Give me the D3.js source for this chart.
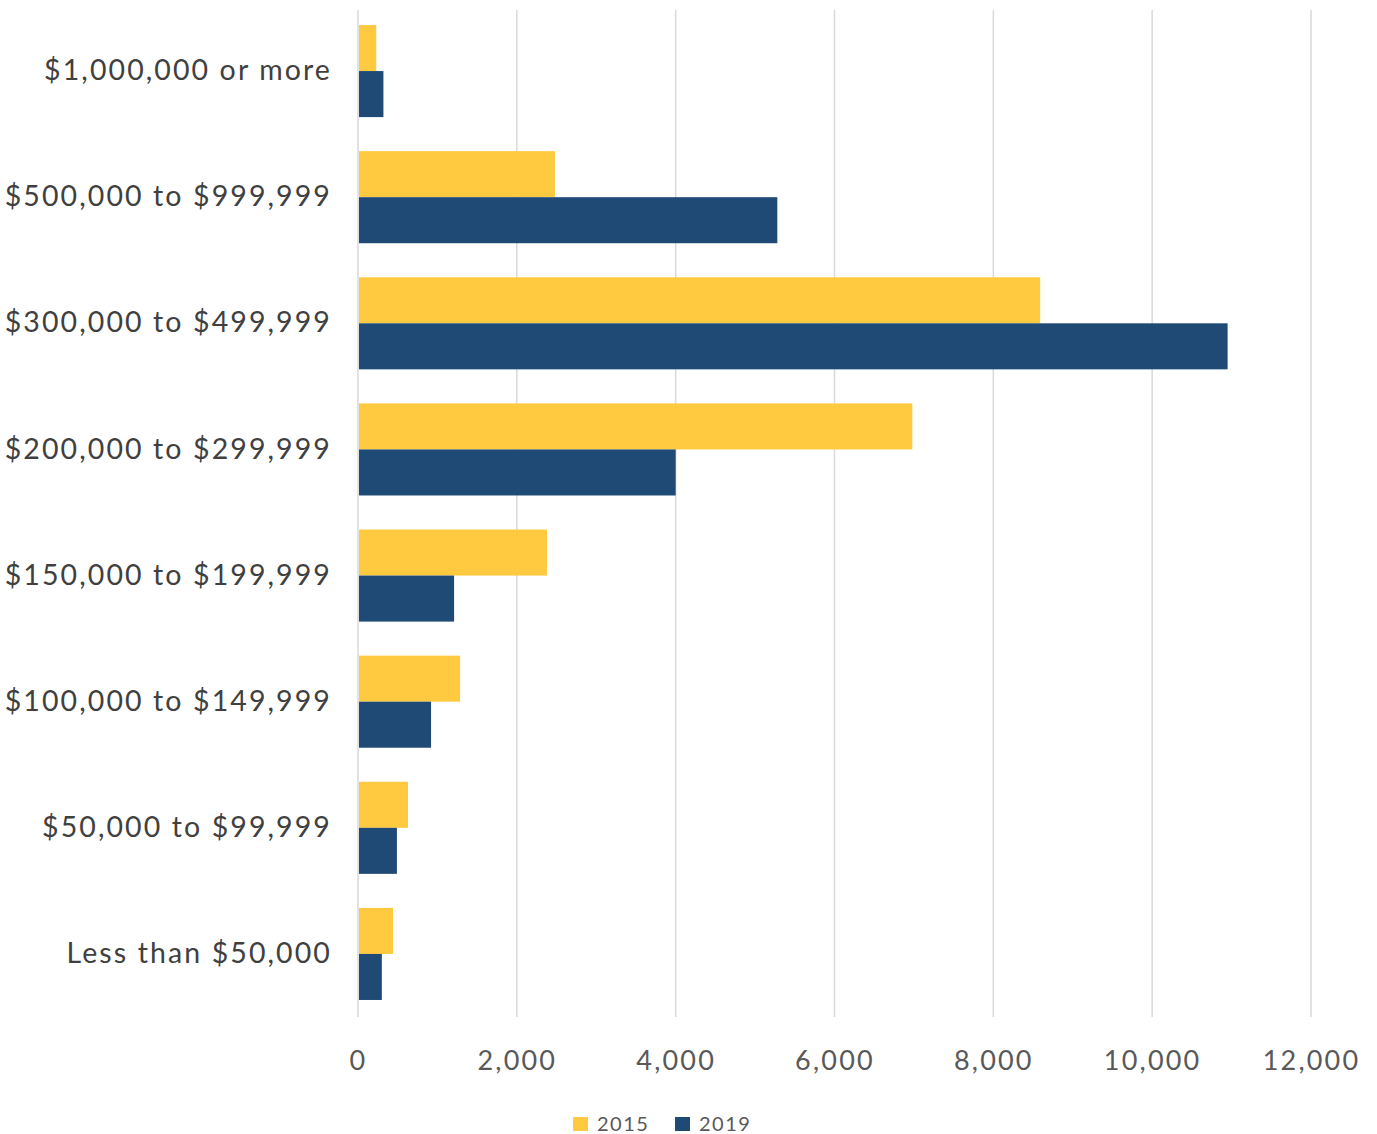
<!DOCTYPE html>
<html><head><meta charset="utf-8">
<script src="https://cdn.jsdelivr.net/npm/d3@7"></script>
<style>body{margin:0;background:#fff;} text{font-family:Lato,"Open Sans",sans-serif;}</style>
</head><body>
<svg id="c" width="1377" height="1134"></svg>
<script>
const categories = ["$1,000,000 or more","$500,000 to $999,999","$300,000 to $499,999","$200,000 to $299,999","$150,000 to $199,999","$100,000 to $149,999","$50,000 to $99,999","Less than $50,000"];
const series2015 = [230, 2480, 8590, 6980, 2380, 1285, 630, 441];
const series2019 = [320, 5280, 10950, 4000, 1210, 920, 490, 300];
const seriesNames = ["2015","2019"];
const tickValues = [0,2000,4000,6000,8000,10000,12000];
const colors = ["#FFC940","#1F4A75"];

(function(){
const svg = d3.select("#c");
const mLeft = 358, mRight = 1311, mTop = 8, mBottom = 1017;
const x = d3.scaleLinear().domain([0,12000]).range([mLeft,mRight]);
const y = d3.scaleBand().domain(categories).range([mTop,mBottom]).paddingInner(0.27).paddingOuter(0.135);
const ys = d3.scaleBand().domain(seriesNames).range([0,y.bandwidth()]);

svg.append("g").selectAll("line").data(tickValues).join("line")
  .attr("x1",d=>x(d)).attr("x2",d=>x(d)).attr("y1",10).attr("y2",mBottom)
  .attr("stroke","#d9d9d9").attr("stroke-width",1.5);

const data = categories.map((c,i)=>({c, vals:[series2015[i],series2019[i]]}));
const g = svg.append("g").selectAll("g").data(data).join("g")
  .attr("transform",d=>`translate(0,${y(d.c)})`);
g.selectAll("rect").data(d=>d.vals.map((v,j)=>({v,s:seriesNames[j],j}))).join("rect")
  .attr("x",x(0)+1).attr("y",d=>ys(d.s)).attr("height",ys.bandwidth())
  .attr("width",d=>x(d.v)-x(0)-1).attr("fill",d=>colors[d.j]);

const yAxis = d3.axisLeft(y).tickSize(0).tickPadding(26);
const ya = svg.append("g").attr("transform",`translate(${mLeft},0)`).call(yAxis);
ya.select(".domain").remove();
ya.selectAll("text").attr("font-size",28.5).attr("fill","#404040")
  .style("letter-spacing","2.1px").style("font-family","Lato,'Open Sans',sans-serif");

const xAxis = d3.axisBottom(x).tickValues(tickValues).tickSize(0).tickPadding(0).tickFormat(d3.format(","));
const xa = svg.append("g").attr("transform",`translate(0,1070)`).call(xAxis);
xa.select(".domain").remove();
xa.selectAll("text").attr("font-size",27).attr("fill","#595959").attr("dy","0")
  .style("letter-spacing","2.2px").style("font-family","Lato,'Open Sans',sans-serif");

const lg = svg.append("g").attr("transform","translate(573,1117)");
seriesNames.forEach((s,i)=>{
  const gx = i*102;
  lg.append("rect").attr("x",gx).attr("y",0).attr("width",15).attr("height",14).attr("fill",colors[i]);
  lg.append("text").attr("x",gx+24).attr("y",14).attr("font-size",20).attr("fill","#595959")
    .style("letter-spacing","1.5px").text(s);
});
})();
</script>
</body></html>
